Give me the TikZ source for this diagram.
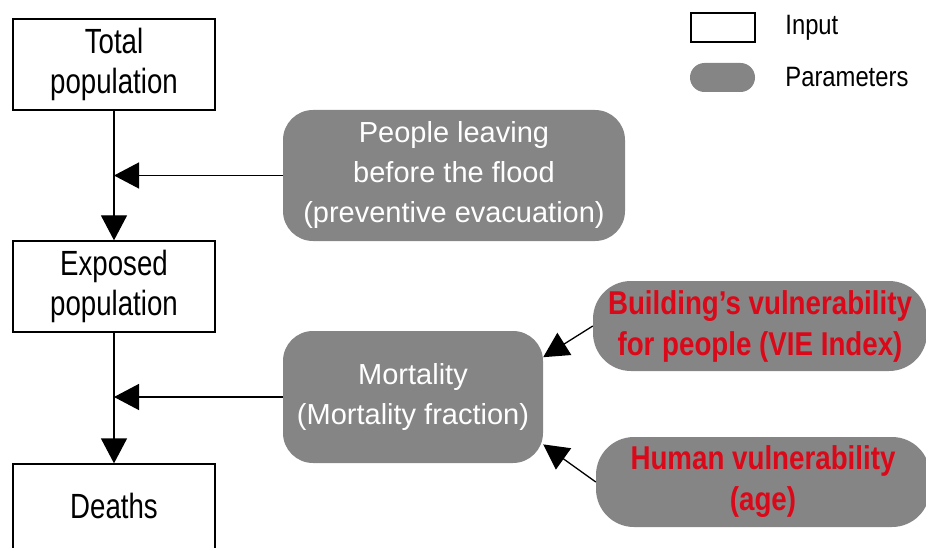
\documentclass[tikz,border=0pt]{standalone}
\usepackage{fontspec}
\setmainfont{Liberation Sans}
\newfontfamily\narrowfont[FakeStretch=0.79]{Liberation Sans}
\newfontfamily\redfont[FakeStretch=0.84]{Liberation Sans}
\newfontfamily\keyfont[FakeStretch=0.85]{Liberation Sans}
\usetikzlibrary{arrows.meta,positioning}
\definecolor{paramgray}{RGB}{133,133,133}
\definecolor{vulnred}{RGB}{218,8,24}

\begin{document}
\begin{tikzpicture}[x=1pt,y=-1pt,
    inputbox/.style={draw,line width=1.3pt,minimum width=202pt,minimum height=91pt,
      inner sep=0pt,align=center,font=\narrowfont\fontsize{35}{40}\selectfont},
    parambox/.style={fill=paramgray,rounded corners=30pt,inner sep=0pt,align=center,
      text=white,font=\fontsize{29}{40}\selectfont},
    vulnbox/.style={parambox,rounded corners=38pt,minimum width=334pt,minimum height=90pt,
      text=vulnred,font=\redfont\bfseries\fontsize{33}{41}\selectfont},
    keytext/.style={inner sep=0pt,font=\keyfont\fontsize{28}{32}\selectfont},
    flow/.style={line width=1.3pt,-{Triangle[length=25pt,width=26pt]}}]
    \clip (0,0) rectangle (926,548);

    % inputs
    \node[inputbox] (total) at (114,64.5) {Total\\population};
    \node[inputbox] (exposed) at (114,286.5) {Exposed\\population};
    \node[inputbox] (deaths) at (114,509.5) {\raisebox{7pt}{Deaths}};

    % parameters
    \node[parambox,minimum width=342pt,minimum height=131pt] (leaving) at (454,175.5)
      {People leaving\\before the flood\\(preventive evacuation)};
    \node[parambox,minimum width=260pt,minimum height=132pt] (mortality) at (413,397)
      {Mortality\\(Mortality fraction)};
    \node[vulnbox] (building) at (760,326) {Building’s vulnerability\\for people (VIE Index)};
    \node[vulnbox] (human) at (763,482) {Human vulnerability\\(age)};

    \coordinate (join1) at (total.south |- leaving.west);
    \coordinate (join2) at (exposed.south |- mortality.west);

    \draw[flow] (total) -- (exposed);
    \draw[flow] (exposed) -- (deaths);
    \draw[flow] (leaving) -- (join1);
    \draw[flow] (mortality) -- (join2);
    \draw[flow] (building.west) -- (mortality.17);
    \draw[flow] (human.west) -- (mortality.-20);

    % legend
    \node[draw,line width=2.4pt,minimum width=64pt,minimum height=29pt,inner sep=0pt] (inputkey) at (723,27.5) {};
    \node[fill=paramgray,rounded corners=14.5pt,minimum width=65pt,minimum height=29pt,inner sep=0pt] (paramkey) at (722.5,77.5) {};
    \node[keytext,right=29pt of inputkey] (inputlabel) {Input};
    \node[keytext,right=30pt of paramkey] (paramlabel) {Parameters};
\end{tikzpicture}
\end{document}
